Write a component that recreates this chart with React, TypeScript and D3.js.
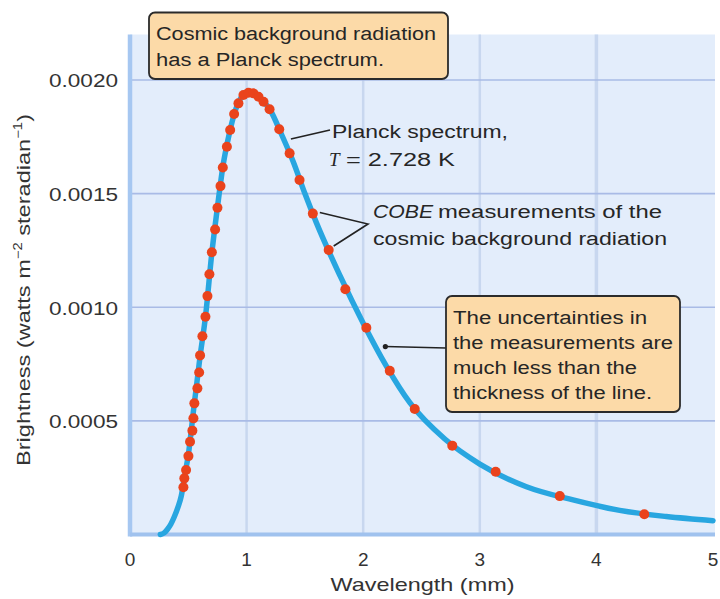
import React from "react";
import * as d3 from "d3";

// ---- data ----
const xTicks = [0, 1, 2, 3, 4, 5];
const xTickLabels = ["0", "1", "2", "3", "4", "5"];
const yTicks = [0.0005, 0.001, 0.0015, 0.002];
const yTickLabels = ["0.0005", "0.0010", "0.0015", "0.0020"];
const gridX = [1, 2, 3, 4];

// Planck curve, T = 2.728 K
const curveWavelength = [
  0.26, 0.29, 0.32, 0.35, 0.38, 0.41, 0.44, 0.47, 0.5, 0.55, 0.6, 0.65, 0.7, 0.75, 0.8,
  0.85, 0.9, 0.95, 1.0, 1.05, 1.1, 1.2, 1.3, 1.4, 1.5, 1.6, 1.8, 2.0, 2.2, 2.4, 2.7, 3.0,
  3.4, 3.8, 4.2, 4.6, 5.0,
];
const curveBrightness = [
  0, 0.000006, 0.000022, 0.000045, 0.000078, 0.000118, 0.00017, 0.00026, 0.00035, 0.00057,
  0.00078, 0.00097, 0.00123, 0.00144, 0.00163, 0.00176, 0.00186, 0.00192, 0.001942,
  0.001942, 0.001927, 0.00187, 0.00176, 0.00164, 0.0015, 0.00137, 0.00114, 0.00093,
  0.00074, 0.00058, 0.00042, 0.00031, 0.00021, 0.000152, 0.000106, 0.000079, 0.000061,
];

// COBE measurements
const cobeWavelength = [
  0.458, 0.466, 0.481, 0.501, 0.515, 0.535, 0.544, 0.552, 0.578, 0.593, 0.601, 0.621,
  0.647, 0.664, 0.681, 0.702, 0.73, 0.75, 0.776, 0.796, 0.831, 0.859, 0.893, 0.93, 0.973,
  1.016, 1.059, 1.102, 1.145, 1.197, 1.28, 1.369, 1.454, 1.568, 1.704, 1.847, 2.027,
  2.228, 2.442, 2.764, 3.136, 3.686, 4.411,
];
const cobeBrightness = [
  0.000208, 0.000247, 0.000284, 0.000345, 0.000408, 0.000457, 0.000511, 0.000577,
  0.000643, 0.000713, 0.000788, 0.000872, 0.000958, 0.001049, 0.001145, 0.001242,
  0.001342, 0.001438, 0.001533, 0.001615, 0.001706, 0.00178, 0.00185, 0.001897, 0.001934,
  0.001944, 0.001941, 0.001926, 0.001904, 0.001871, 0.001783, 0.001677, 0.00156, 0.001412,
  0.001252, 0.001079, 0.00091, 0.00072, 0.000552, 0.000391, 0.000276, 0.000169, 0.000089,
];

const boxTopLines = ["Cosmic background radiation", "has a Planck spectrum."];
const boxBottomLines = [
  "The uncertainties in",
  "the measurements are",
  "much less than the",
  "thickness of the line.",
];

const FONT = "'Liberation Sans', Arial, Helvetica, sans-serif";
const SERIF = "'Liberation Serif', 'Times New Roman', serif";
const TEXT = "#262626";
const BOX_FILL = "#fcdaa8";

export default function App() {
  const W = 720;
  const H = 599;
  const left = 130;
  const right = 715;
  const bottom = 534.5;
  const top = 34.5;

  const x = d3.scaleLinear().domain([0, 5]).range([130, 713]);
  const y = d3.scaleLinear().domain([0, 0.0022]).range([bottom, top]);

  const linePath = d3
    .line<number>()
    .x((_, i) => x(curveWavelength[i]))
    .y((d) => y(d))
    .curve(d3.curveMonotoneX)(curveBrightness) as string;

  // annotation anchors in data units
  const planckAnchor = [x(1.38), y(0.00174)];
  const cobeA = [x(cobeWavelength[33]) + 7, y(cobeBrightness[33]) - 1];
  const cobeB = [x(cobeWavelength[34]) + 5, y(cobeBrightness[34]) - 4];
  const uncAnchor = [x(2.19), y(0.000827)];

  return (
    <svg
      width={W}
      height={H}
      viewBox={`0 0 ${W} ${H}`}
      style={{ position: "absolute", left: 0, top: 0, background: "#ffffff" }}
    >
      {/* plot background */}
      <rect x={left} y={top} width={right - left} height={bottom - top} fill="#e3edfb" />

      {/* vertical gridlines */}
      {gridX.map((g) => (
        <line
          key={"gx" + g}
          x1={x(g)}
          x2={x(g)}
          y1={top}
          y2={bottom}
          stroke="#c8d7ef"
          strokeWidth={g === 4 ? 3.5 : 2.5}
        />
      ))}
      {/* horizontal gridlines */}
      {yTicks.map((t) => (
        <line
          key={"gy" + t}
          x1={left}
          x2={right}
          y1={y(t)}
          y2={y(t)}
          stroke="#a9bbe6"
          strokeWidth={1.6}
        />
      ))}

      {/* axes */}
      <line x1={left} x2={left} y1={top} y2={bottom + 2} stroke="#a6c7f1" strokeWidth={4.5} />
      <line x1={left} x2={right} y1={bottom} y2={bottom} stroke="#a0c2ee" strokeWidth={4} />

      {/* tick labels */}
      {yTicks.map((t, i) => (
        <text
          key={"yl" + t}
          x={118}
          y={y(t) + 7.5}
          textAnchor="end"
          fontFamily={FONT}
          fontSize={19}
          fill="#333"
          textLength={69}
          lengthAdjust="spacingAndGlyphs"
        >
          {yTickLabels[i]}
        </text>
      ))}
      {xTicks.map((t, i) => (
        <text
          key={"xl" + t}
          x={x(t)}
          y={566}
          textAnchor="middle"
          fontFamily={FONT}
          fontSize={19}
          fill="#333"
        >
          {xTickLabels[i]}
        </text>
      ))}

      {/* axis titles */}
      <text
        x={(left + right) / 2}
        y={591}
        textAnchor="middle"
        fontFamily={FONT}
        fontSize={19}
        fill="#333"
        textLength={184}
        lengthAdjust="spacingAndGlyphs"
      >
        Wavelength (mm)
      </text>
      <text
        transform={`translate(30, ${(110 + 470) / 2}) rotate(-90) scale(1.24, 1)`}
        textAnchor="middle"
        fontFamily={FONT}
        fontSize={19}
        fill="#333"
      >
        <tspan>Brightness (watts m</tspan>
        <tspan fontSize={12} dy={-8}>
          −2
        </tspan>
        <tspan dy={8}> steradian</tspan>
        <tspan fontSize={12} dy={-8}>
          −1
        </tspan>
        <tspan dy={8}>)</tspan>
      </text>

      {/* Planck curve */}
      <path d={linePath} fill="none" stroke="#28a6e0" strokeWidth={5.5} strokeLinecap="round" />

      {/* COBE points */}
      {cobeWavelength.map((w, i) => (
        <circle key={"c" + i} cx={x(w)} cy={y(cobeBrightness[i])} r={5} fill="#ea431c" />
      ))}

      {/* leader lines */}
      <polyline
        points={`${planckAnchor[0]},${planckAnchor[1]} 330,130`}
        fill="none"
        stroke="#222"
        strokeWidth={1.6}
      />
      <polyline
        points={`${cobeA[0]},${cobeA[1]} 368,224 ${cobeB[0]},${cobeB[1]}`}
        fill="none"
        stroke="#222"
        strokeWidth={1.6}
      />
      <line
        x1={uncAnchor[0]}
        y1={uncAnchor[1]}
        x2={446}
        y2={348}
        stroke="#222"
        strokeWidth={1.6}
      />
      <circle cx={uncAnchor[0]} cy={uncAnchor[1]} r={2.6} fill="#222" />

      {/* annotation texts */}
      <text
        x={332}
        y={138}
        fontFamily={FONT}
        fontSize={18}
        fill={TEXT}
        textLength={176}
        lengthAdjust="spacingAndGlyphs"
      >
        Planck spectrum,
      </text>
      <text x={329} y={166} fontFamily={SERIF} fontStyle="italic" fontSize={19} fill={TEXT}>
        T
      </text>
      <text
        x={346}
        y={166}
        fontFamily={FONT}
        fontSize={18}
        fill={TEXT}
        textLength={109}
        lengthAdjust="spacingAndGlyphs"
      >
        = 2.728 K
      </text>
      <text
        x={373}
        y={218}
        fontFamily={FONT}
        fontStyle="italic"
        fontSize={18}
        fill={TEXT}
        textLength={60}
        lengthAdjust="spacingAndGlyphs"
      >
        COBE
      </text>
      <text
        x={438}
        y={218}
        fontFamily={FONT}
        fontSize={18}
        fill={TEXT}
        textLength={224}
        lengthAdjust="spacingAndGlyphs"
      >
        measurements of the
      </text>
      <text
        x={373}
        y={245}
        fontFamily={FONT}
        fontSize={18}
        fill={TEXT}
        textLength={294}
        lengthAdjust="spacingAndGlyphs"
      >
        cosmic background radiation
      </text>

      {/* top callout box */}
      <rect
        x={149}
        y={12.5}
        width={299}
        height={66.5}
        rx={6}
        fill={BOX_FILL}
        stroke="#2b2b2b"
        strokeWidth={1.8}
      />
      {boxTopLines.map((l, i) => (
        <text
          key={"bt" + i}
          x={156}
          y={40 + i * 26}
          fontFamily={FONT}
          fontSize={18}
          fill={TEXT}
          textLength={i === 0 ? 280 : 228}
          lengthAdjust="spacingAndGlyphs"
        >
          {l}
        </text>
      ))}

      {/* bottom-right callout box */}
      <rect
        x={446}
        y={296}
        width={234}
        height={116}
        rx={6}
        fill={BOX_FILL}
        stroke="#2b2b2b"
        strokeWidth={1.8}
      />
      {boxBottomLines.map((l, i) => (
        <text
          key={"bb" + i}
          x={453}
          y={324 + i * 25}
          fontFamily={FONT}
          fontSize={18}
          fill={TEXT}
          textLength={[194, 220, 184, 199][i]}
          lengthAdjust="spacingAndGlyphs"
        >
          {l}
        </text>
      ))}
    </svg>
  );
}
